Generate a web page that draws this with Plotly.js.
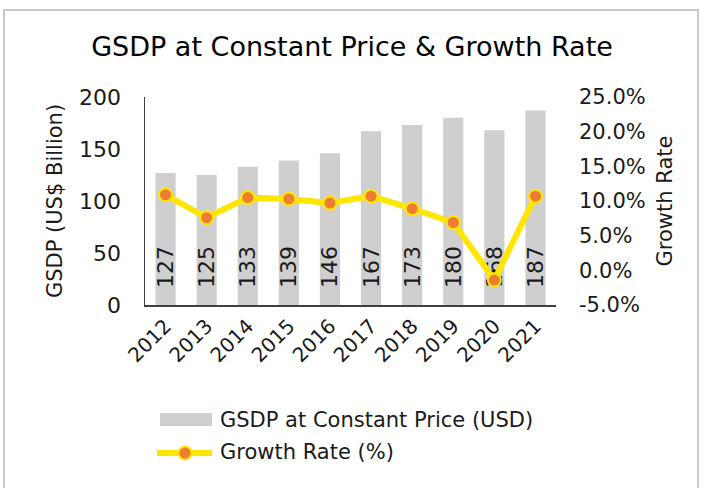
<!DOCTYPE html>
<html>
<head>
<meta charset="utf-8">
<script src="https://cdn.plot.ly/plotly-3.0.1.min.js"></script>
<style>html,body{margin:0;padding:0;background:#fff;}#chart{width:704px;height:488px;}</style>
</head>
<body>
<div id="chart"></div>
<script>
const years = ['2012','2013','2014','2015','2016','2017','2018','2019','2020','2021'];
const gsdp = [127,125,133,139,146,167,173,180,168,187];
const growth = [10.9,7.6,10.5,10.3,9.7,10.7,8.9,6.9,-1.4,10.7];
const leftTicks = [0,50,100,150,200];
const rightTicks = [-5,0,5,10,15,20,25];

const FONT = 'DejaVu Sans';
const TXT = '#1a1a1a';

const bars = {
  type: 'bar', x: years, y: gsdp, name: 'GSDP at Constant Price (USD)',
  marker: {color: '#d0cfcf'},
  text: gsdp.map(v => '\u00a0\u00a0' + v),
  textposition: 'inside', insidetextanchor: 'start', textangle: -90,
  constraintext: 'none',
  textfont: {family: FONT, size: 22, color: TXT},
  showlegend: false, hoverinfo: 'skip'
};
const line = {
  type: 'scatter', mode: 'lines+markers', x: years, y: growth, yaxis: 'y2',
  name: 'Growth Rate (%)',
  line: {color: '#ffe600', width: 6},
  marker: {color: '#ed7d31', size: 13, line: {color: '#ffe600', width: 2}},
  showlegend: false, hoverinfo: 'skip', cliponaxis: false
};

// plot area pixels: x 145..556, y 97..305
const L = 145, R = 556, T = 97, B = 305, W = R - L, H = B - T;
const px = p => (p - L) / W;
const py = p => (B - p) / H;

const layout = {
  width: 704, height: 488,
  margin: {l: L, r: 704 - R, t: T, b: 488 - B, autoexpand: false},
  paper_bgcolor: '#fff', plot_bgcolor: '#fff',
  font: {family: FONT, color: TXT},
  title: {text: 'GSDP at Constant Price &amp; Growth Rate', font: {family: FONT, size: 27, color: '#000'},
          x: 0.5, xanchor: 'center', y: 1 - 47/488, yanchor: 'middle'},
  bargap: 0.51,
  xaxis: {
    type: 'category', range: [-0.5, years.length - 0.5], autorange: false,
    tickangle: -45, tickfont: {family: FONT, size: 20, color: TXT},
    showline: true, linecolor: '#3f3f4a', linewidth: 1.5, showgrid: false, ticks: '', zeroline: false,
    automargin: false
  },
  yaxis: {
    range: [0, 200], tickvals: leftTicks, showgrid: false, zeroline: false,
    showline: true, linecolor: '#3f3f4a', linewidth: 1.5, ticks: '', automargin: false,
    tickfont: {family: FONT, size: 22, color: TXT}, ticklabelstandoff: 18,
    title: {text: 'GSDP (US$ Billion)', font: {family: FONT, size: 21, color: TXT}, standoff: 10}
  },
  yaxis2: {
    overlaying: 'y', side: 'right', range: [-5, 25], tickvals: rightTicks,
    ticktext: rightTicks.map(v => v.toFixed(1) + '%'), automargin: false,
    showgrid: false, zeroline: false, showline: false, ticks: '',
    tickfont: {family: FONT, size: 21, color: TXT}, ticklabelstandoff: 22,
    title: {text: 'Growth Rate', font: {family: FONT, size: 21, color: TXT}, standoff: 12}
  },
  shapes: [
    {type: 'rect', xref: 'paper', yref: 'paper', x0: px(4), x1: px(698), y0: py(500), y1: py(10),
     line: {color: '#c9c9c9', width: 2}, fillcolor: 'rgba(0,0,0,0)', layer: 'below'},
    {type: 'rect', xref: 'paper', yref: 'paper', x0: px(160), x1: px(212), y0: py(426), y1: py(413),
     line: {width: 0}, fillcolor: '#d0cfcf'},
    {type: 'line', xref: 'paper', yref: 'paper', x0: px(157), x1: px(212), y0: py(453), y1: py(453),
     line: {color: '#ffe600', width: 6}},
    {type: 'circle', xref: 'paper', yref: 'paper', xsizemode: 'pixel', ysizemode: 'pixel',
     xanchor: px(185), yanchor: py(453), x0: -6.5, x1: 6.5, y0: -6.5, y1: 6.5,
     fillcolor: '#ed7d31', line: {color: '#ffe600', width: 2}}
  ],
  annotations: [
    {xref: 'paper', yref: 'paper', x: px(218), y: py(420), xanchor: 'left', yanchor: 'middle',
     text: 'GSDP at Constant Price (USD)', showarrow: false, font: {family: FONT, size: 21, color: TXT}},
    {xref: 'paper', yref: 'paper', x: px(218), y: py(452), xanchor: 'left', yanchor: 'middle',
     text: 'Growth Rate (%)', showarrow: false, font: {family: FONT, size: 21, color: TXT}}
  ]
};

Plotly.newPlot('chart', [bars, line], layout, {displayModeBar: false, staticPlot: true});
</script>
</body>
</html>
